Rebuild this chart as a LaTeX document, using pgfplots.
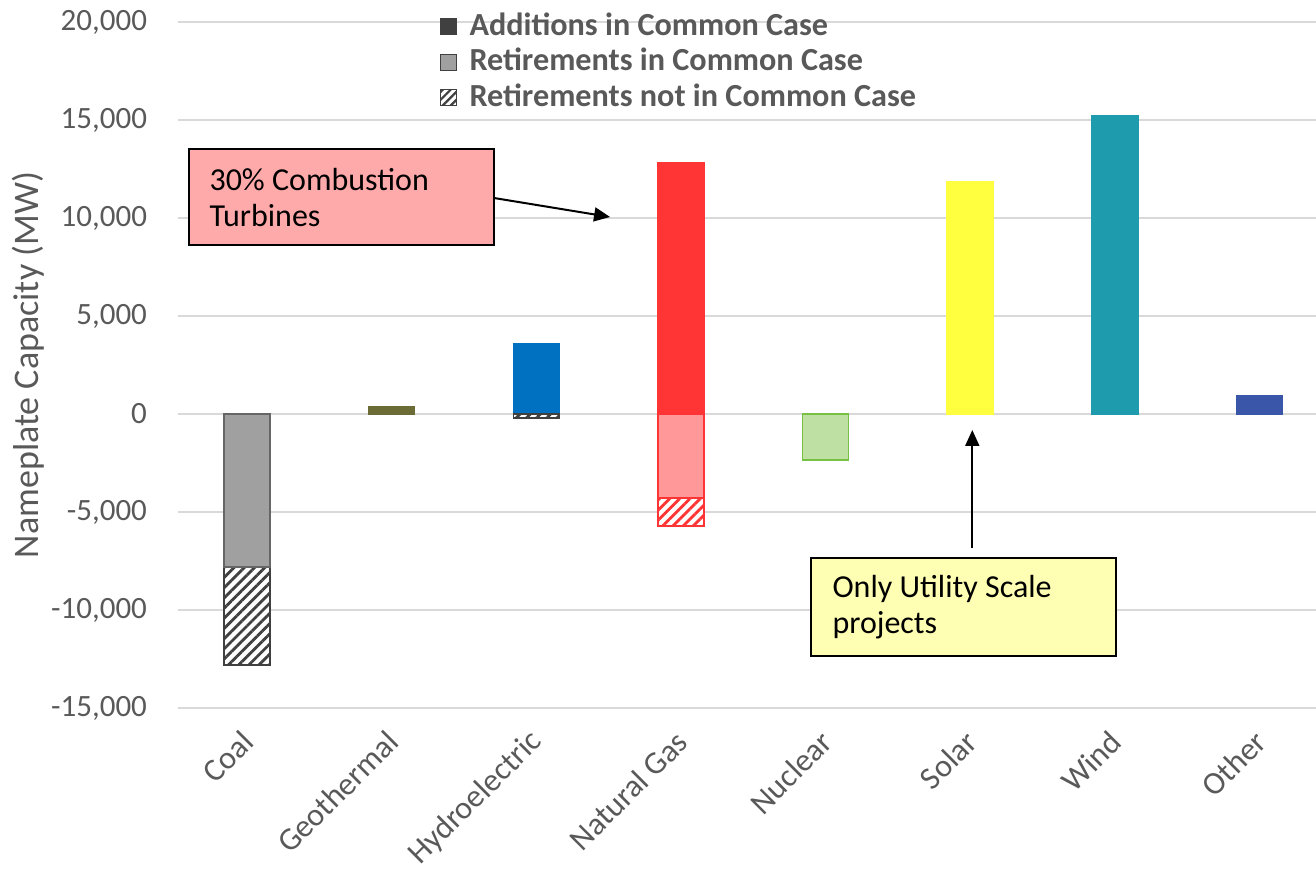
\documentclass[border=0pt]{standalone}
\usepackage{fontspec}
\setmainfont{Carlito}
\usepackage{pgfplots}
\pgfplotsset{compat=1.18}
\usetikzlibrary{patterns.meta, arrows.meta}

\definecolor{txt}{HTML}{595959}
\definecolor{gridc}{HTML}{D9D9D9}
\definecolor{coalret}{HTML}{A0A0A0}
\definecolor{coaldark}{HTML}{404040}
\definecolor{geo}{HTML}{6B6B35}
\definecolor{hydro}{HTML}{0070C0}
\definecolor{gas}{HTML}{FF3535}
\definecolor{gasret}{HTML}{FF9999}
\definecolor{nucret}{HTML}{BEE0A2}
\definecolor{nucedge}{HTML}{76C044}
\definecolor{solar}{HTML}{FFFF40}
\definecolor{wind}{HTML}{1F9BAE}
\definecolor{other}{HTML}{3A56A8}
\definecolor{pinkbox}{HTML}{FFAAAA}
\definecolor{yelbox}{HTML}{FFFFB3}

\pgfplotsset{
  mybar/.style={ybar, bar width=23pt, bar shift=0pt, forget plot, line width=0.8pt},
  hatch/.style={fill=white, draw=#1, postaction={pattern={Lines[angle=45,distance=3.6pt,line width=1.4pt]}, pattern color=#1}},
}

\begin{document}
\begin{tikzpicture}
\begin{axis}[
  scale only axis, width=569pt, height=343pt,
  xmin=-0.477, xmax=7.39, ymin=-15000, ymax=20000,
  enlargelimits=false,
  scaled y ticks=false,
  ytick={-15000,-10000,-5000,0,5000,10000,15000,20000},
  xtick={0,1,2,3,4,5,6,7},
  xticklabels={Coal,Geothermal,Hydroelectric,Natural Gas,Nuclear,Solar,Wind,Other},
  axis line style={draw=none}, tick style={draw=none}, major tick length=0pt,
  ymajorgrids, grid style={gridc, line width=0.8pt},
  tick label style={text=txt},
  yticklabel style={font=\fontsize{15.5}{18}\selectfont, xshift=-12pt},
  xticklabel style={font=\fontsize{16}{19}\selectfont, xshift=3pt, yshift=-12pt, rotate=45, anchor=east},
  /pgf/number format/assume math mode=true,
  /pgf/number format/1000 sep={,},
  ylabel={Nameplate Capacity (MW)},
  every axis y label/.style={at={(axis description cs:0,0.5)}, xshift=-75pt, rotate=90, anchor=center, font=\fontsize{18}{21}\selectfont, text=txt},
  legend image code/.code={\draw[#1] (0pt,-4pt) rectangle (8pt,4pt); \path (13.5pt,0pt);},
  legend style={at={(axis description cs:0.229,1.0195)}, anchor=north west, draw=none, fill=none,
    font=\bfseries\fontsize{16.1}{17.5}\selectfont, text=txt, inner sep=0pt,
    nodes={inner sep=1pt, text height=12pt, text depth=3.75pt}, cells={anchor=west}},
]
% Coal
\addplot[mybar, hatch=coaldark] coordinates {(0,-12800)};
\addplot[mybar, fill=coalret, draw=coaldark!80] coordinates {(0,-7800)};
% Geothermal
\addplot[mybar, fill=geo, draw=geo] coordinates {(1,350)};
% Hydroelectric
\addplot[mybar, fill=hydro, draw=hydro] coordinates {(2,3600)};
\addplot[mybar, hatch=coaldark] coordinates {(2,-200)};
% Natural Gas
\addplot[mybar, fill=gas, draw=gas] coordinates {(3,12800)};
\addplot[mybar, hatch=gas] coordinates {(3,-5700)};
\addplot[mybar, fill=gasret, draw=gas] coordinates {(3,-4300)};
% Nuclear
\addplot[mybar, fill=nucret, draw=nucedge] coordinates {(4,-2350)};
% Solar
\addplot[mybar, fill=solar, draw=solar] coordinates {(5,11850)};
% Wind
\addplot[mybar, fill=wind, draw=wind] coordinates {(6,15200)};
% Other
\addplot[mybar, fill=other, draw=other] coordinates {(7,950)};

\addlegendimage{fill=coaldark, draw=coaldark}
\addlegendentry{Additions in Common Case}
\addlegendimage{fill=coalret, draw=coaldark}
\addlegendentry{Retirements in Common Case}
\addlegendimage{fill=white, draw=coaldark, postaction={pattern={Lines[angle=45,distance=2.8pt,line width=1.1pt]}, pattern color=coaldark}}
\addlegendentry{Retirements not in Common Case}

% annotations
\draw[fill=pinkbox, line width=1pt] (axis cs:-0.40,13520) rectangle (axis cs:1.708,8622);
\node[anchor=west, align=left, font=\fontsize{16}{18}\selectfont, inner sep=0pt, xshift=10pt] at (axis cs:-0.40,11070) {30\% Combustion\\Turbines};
\draw[-{Triangle[length=8pt,width=7pt]}, line width=1pt] (axis cs:1.708,11020) -- (axis cs:2.51,10051);

\draw[fill=yelbox, line width=1pt] (axis cs:3.90,-7347) rectangle (axis cs:6.01,-12347);
\node[anchor=west, align=left, font=\fontsize{16}{18}\selectfont, inner sep=0pt, xshift=10.5pt] at (axis cs:3.90,-9847) {Only Utility Scale\\projects};
\draw[-{Triangle[length=8pt,width=7pt]}, line width=1pt] (axis cs:5.014,-6837) -- (axis cs:5.014,-816);
\end{axis}
\pgfresetboundingbox
\path (-89pt,-82.5pt) rectangle (569pt,354pt);
\end{tikzpicture}
\end{document}
